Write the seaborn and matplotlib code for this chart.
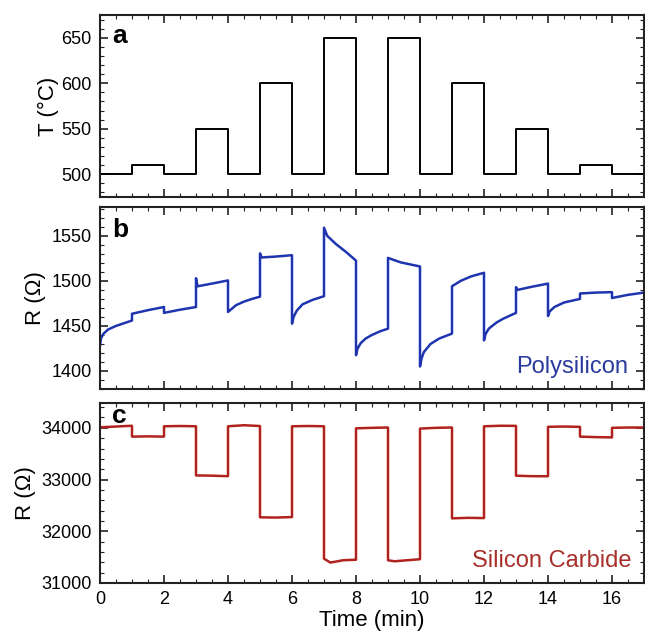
import numpy as np
import pandas as pd
import matplotlib
matplotlib.use("Agg")
import matplotlib.pyplot as plt
import seaborn as sns
from matplotlib.ticker import MultipleLocator

# ---------------- data ----------------
# Panel a: temperature set-points (step profile, value holds until next time)
temp_time = [0, 1, 2, 3, 4, 5, 6, 7, 8, 9, 10, 11, 12, 13, 14, 15, 16, 17]
temp_value = [500, 510, 500, 550, 500, 600, 500, 650, 500, 650, 500, 600, 500, 550, 500, 510, 500, 500]

# Panel b: polysilicon resistance
poly_time = [0.0, 0.03, 0.1, 0.25, 0.5, 0.75, 1.0,
             1.0, 1.5, 2.0,
             2.0, 2.5, 3.0,
             3.0, 3.05, 3.5, 4.0,
             4.0, 4.05, 4.25, 4.5, 4.75, 5.0,
             5.0, 5.05, 5.5, 6.0,
             6.0, 6.05, 6.15, 6.33, 6.65, 7.0,
             7.0, 7.1, 7.37, 7.69, 8.0,
             8.0, 8.05, 8.15, 8.3, 8.5, 8.75, 9.0,
             9.0, 9.4, 10.0,
             10.0, 10.05, 10.12, 10.33, 10.6, 11.0,
             11.0, 11.27, 11.6, 12.0,
             12.0, 12.05, 12.15, 12.4, 12.6, 13.0,
             13.0, 13.05, 13.5, 14.0,
             14.0, 14.05, 14.2, 14.5, 15.0,
             15.0, 15.5, 16.0,
             16.0, 16.5, 17.0]
poly_R = [1428, 1436, 1441, 1446, 1450, 1453, 1456,
          1463.5, 1467.5, 1471,
          1464.5, 1468, 1471,
          1503, 1494, 1497, 1500.5,
          1465.5, 1467, 1473, 1477, 1480, 1482.5,
          1530.5, 1526, 1527, 1528.5,
          1452.5, 1460, 1467, 1474, 1479, 1483,
          1559, 1550, 1541, 1532, 1522.5,
          1417.5, 1425, 1431, 1436, 1440, 1444, 1447,
          1525.5, 1520.5, 1516,
          1405, 1414, 1421, 1430, 1436, 1441.5,
          1494, 1500, 1505, 1509,
          1434, 1441, 1447, 1454, 1458, 1464.5,
          1493, 1490, 1493.5, 1497,
          1461, 1466, 1471, 1476, 1480,
          1486, 1487, 1487.5,
          1481, 1484.5, 1487]

# Panel c: silicon carbide resistance
sic_time = [0.0, 0.5, 1.0,
            1.0, 1.5, 2.0,
            2.0, 2.5, 3.0,
            3.0, 3.5, 4.0,
            4.0, 4.5, 5.0,
            5.0, 5.5, 6.0,
            6.0, 6.5, 7.0,
            7.0, 7.2, 7.6, 8.0,
            8.0, 8.5, 9.0,
            9.0, 9.2, 9.6, 10.0,
            10.0, 10.5, 11.0,
            11.0, 11.5, 12.0,
            12.0, 12.5, 13.0,
            13.0, 13.5, 14.0,
            14.0, 14.5, 15.0,
            15.0, 15.5, 16.0,
            16.0, 16.5, 17.0]
sic_R = [34010, 34025, 34040,
         33830, 33835, 33830,
         34030, 34035, 34030,
         33080, 33075, 33065,
         34030, 34050, 34035,
         32270, 32265, 32275,
         34030, 34035, 34030,
         31470, 31395, 31440, 31450,
         33990, 34000, 34006,
         31440, 31420, 31440, 31460,
         33985, 34000, 34006,
         32250, 32260, 32255,
         34030, 34040, 34038,
         33075, 33065, 33064,
         34020, 34025, 34019,
         33830, 33820, 33815,
         34000, 34006, 34006]

temp_df = pd.DataFrame({"t": temp_time, "T": temp_value})
poly_df = pd.DataFrame({"t": poly_time, "R": poly_R})
sic_df = pd.DataFrame({"t": sic_time, "R": sic_R})

# ---------------- style ----------------
sns.set_style("ticks")
plt.rcParams["font.family"] = ["Liberation Sans", "DejaVu Sans"]
plt.rcParams["text.color"] = "black"
plt.rcParams["axes.labelcolor"] = "black"
plt.rcParams["xtick.color"] = "black"
plt.rcParams["ytick.color"] = "black"

W, H = 645, 638
fig = plt.figure(figsize=(W / 100, H / 100), dpi=100)

left, right = 100, 644
def rect(top, bottom):
    return [left / W, 1 - bottom / H, (right - left) / W, (bottom - top) / H]

ax_a = fig.add_axes(rect(15, 197))
ax_b = fig.add_axes(rect(207, 389))
ax_c = fig.add_axes(rect(403, 583))

poly_color = "#1f35b0"
sic_color = "#b0221e"

sns.lineplot(data=temp_df, x="t", y="T", ax=ax_a, color="black", lw=1.4,
             drawstyle="steps-post", estimator=None, sort=False)
sns.lineplot(data=poly_df, x="t", y="R", ax=ax_b, color=poly_color, lw=1.8,
             estimator=None, sort=False)
sns.lineplot(data=sic_df, x="t", y="R", ax=ax_c, color=sic_color, lw=1.8,
             estimator=None, sort=False)

ax_a.set_ylim(475, 675)
ax_a.yaxis.set_major_locator(MultipleLocator(50))
ax_a.yaxis.set_minor_locator(MultipleLocator(10))
ax_b.set_ylim(1380, 1582)
ax_b.yaxis.set_major_locator(MultipleLocator(50))
ax_b.yaxis.set_minor_locator(MultipleLocator(10))
ax_c.set_ylim(31000, 34480)
ax_c.yaxis.set_major_locator(MultipleLocator(1000))
ax_c.yaxis.set_minor_locator(MultipleLocator(200))

for ax in (ax_a, ax_b, ax_c):
    ax.set_xlim(0, 17)
    ax.xaxis.set_major_locator(MultipleLocator(2))
    ax.xaxis.set_minor_locator(MultipleLocator(0.5))
    ax.tick_params(which="both", direction="in", top=True, right=True,
                   labelsize=13, pad=6, color="#222222", labelcolor="black")
    ax.tick_params(which="major", length=6, width=1.2)
    ax.tick_params(which="minor", length=3, width=0.8)
    for s in ax.spines.values():
        s.set_linewidth(1.5)
        s.set_color("#222222")
    ax.set_xlabel("")

ax_a.tick_params(labelbottom=False)
ax_b.tick_params(labelbottom=False)

ax_a.set_ylabel("T (°C)", fontsize=16, labelpad=2, color="black")
ax_b.set_ylabel("R (Ω)", fontsize=16, labelpad=4, color="black")
ax_c.set_ylabel("R (Ω)", fontsize=16, labelpad=4, color="black")
ax_c.set_xlabel("Time (min)", fontsize=16, labelpad=1, color="black")

for ax, lab, ypos in ((ax_a, "a", 0.846), (ax_b, "b", 0.835), (ax_c, "c", 0.889)):
    ax.text(0.022, ypos, lab, transform=ax.transAxes, fontsize=19,
            fontweight="bold", va="baseline", ha="left", color="black")

ax_b.text(0.97, 0.09, "Polysilicon", transform=ax_b.transAxes,
          fontsize=17, color="#2a3a9e", ha="right", va="baseline")
ax_c.text(0.977, 0.089, "Silicon Carbide", transform=ax_c.transAxes,
          fontsize=17, color="#a8302c", ha="right", va="baseline")

fig.savefig("out.png", dpi=100)
